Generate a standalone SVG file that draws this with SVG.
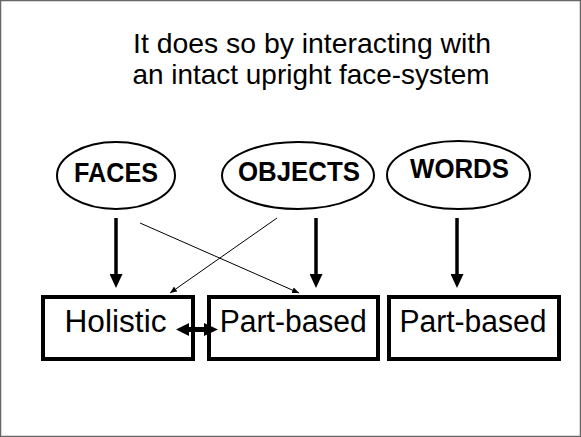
<svg xmlns="http://www.w3.org/2000/svg" width="581" height="437" viewBox="0 0 581 437">
<style>
.t{font-family:"Liberation Sans",Arial,sans-serif;fill:#000}
.title{font-size:28px}
.lab{font-size:27px;font-weight:bold}
.box{fill:#fff;stroke:#000;stroke-width:4}
.ell{fill:#fff;stroke:#000;stroke-width:2}
.bt{font-size:31px}
.thick{stroke:#000;stroke-width:3.5;fill:none}
.thin{stroke:#000;stroke-width:1;fill:none}
</style>
<defs>
<marker id="big" viewBox="0 0 14 13" refX="0" refY="6.5" markerWidth="14" markerHeight="13" markerUnits="userSpaceOnUse" orient="auto">
<path d="M0,0 L14,6.5 L0,13 Z" fill="#000"/>
</marker>
<marker id="small" viewBox="0 0 7 6" refX="7" refY="3" markerWidth="7" markerHeight="6" markerUnits="userSpaceOnUse" orient="auto">
<path d="M0,0 L7,3 L0,6 Z" fill="#000"/>
</marker>
</defs>
<rect x="0.5" y="0.5" width="580" height="436" fill="#fff" stroke="#666" stroke-width="1.5"/>
<g id="title">
<text class="t title" x="312" y="53" text-anchor="middle" textLength="358" lengthAdjust="spacingAndGlyphs">It does so by interacting with</text>
<text class="t title" x="311" y="84" text-anchor="middle" textLength="357" lengthAdjust="spacingAndGlyphs">an intact upright face-system</text>
</g>
<g id="faces">
<ellipse class="ell" cx="116" cy="175.5" rx="59" ry="33.5"/>
<text class="t lab" x="116" y="182" text-anchor="middle" textLength="84" lengthAdjust="spacingAndGlyphs">FACES</text>
</g>
<g id="objects">
<ellipse class="ell" cx="298" cy="175.5" rx="76" ry="33.5"/>
<text class="t lab" x="299" y="181" text-anchor="middle" textLength="122" lengthAdjust="spacingAndGlyphs">OBJECTS</text>
</g>
<g id="words">
<ellipse class="ell" cx="458.5" cy="175" rx="71.5" ry="34"/>
<text class="t lab" x="459.5" y="178" text-anchor="middle" textLength="99" lengthAdjust="spacingAndGlyphs">WORDS</text>
</g>
<g id="holistic">
<rect class="box" x="43" y="297" width="150" height="62"/>
<text class="t bt" x="115.5" y="332" text-anchor="middle" textLength="102" lengthAdjust="spacingAndGlyphs">Holistic</text>
</g>
<g id="partbased1">
<rect class="box" x="209" y="297" width="169" height="62"/>
<text class="t bt" x="293.3" y="332" text-anchor="middle" textLength="147" lengthAdjust="spacingAndGlyphs">Part-based</text>
</g>
<g id="partbased2">
<rect class="box" x="389" y="297" width="170" height="62"/>
<text class="t bt" x="473" y="332" text-anchor="middle" textLength="147" lengthAdjust="spacingAndGlyphs">Part-based</text>
</g>
<g id="connectors">
<line class="thick" x1="116" y1="218" x2="116" y2="274" marker-end="url(#big)"/>
<line class="thick" x1="316" y1="218" x2="316" y2="274" marker-end="url(#big)"/>
<line class="thick" x1="457" y1="218" x2="457" y2="274" marker-end="url(#big)"/>
<line class="thin" x1="140" y1="223" x2="299" y2="293" marker-end="url(#small)"/>
<line class="thin" x1="277" y1="218" x2="170" y2="293" marker-end="url(#small)"/>
<polygon points="176,329.5 189,323 189,327 204,327 204,323 218,329.5 204,336 204,332 189,332 189,336" fill="#000"/>
</g>
</svg>
